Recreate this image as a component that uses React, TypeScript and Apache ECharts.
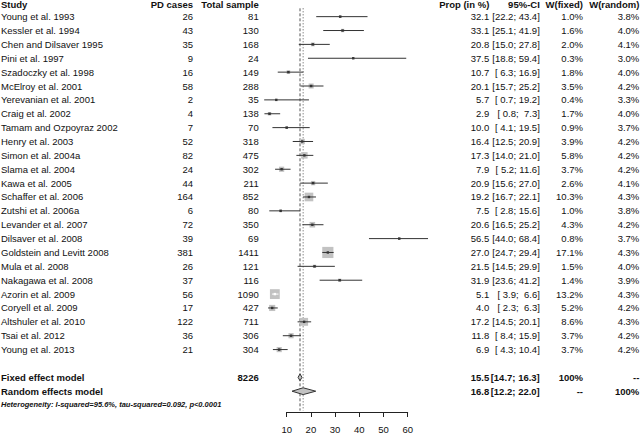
import React, { useEffect, useRef } from "react";
import * as echarts from "echarts";

// ---- data ----
const studies = [
  "Young et al. 1993", "Kessler et al. 1994", "Chen and Dilsaver 1995", "Pini et al. 1997",
  "Szadoczky et al. 1998", "McElroy et al. 2001", "Yerevanian et al. 2001", "Craig et al. 2002",
  "Tamam and Ozpoyraz 2002", "Henry et al. 2003", "Simon et al. 2004a", "Slama et al. 2004",
  "Kawa et al. 2005", "Schaffer et al. 2006", "Zutshi et al. 2006a", "Levander et al. 2007",
  "Dilsaver et al. 2008", "Goldstein and Levitt 2008", "Mula et al. 2008", "Nakagawa et al. 2008",
  "Azorin et al. 2009", "Coryell et al. 2009", "Altshuler et al. 2010", "Tsai et al. 2012",
  "Young et al. 2013",
];
const pdCases = [26, 43, 35, 9, 16, 58, 2, 4, 7, 52, 82, 24, 44, 164, 6, 72, 39, 381, 26, 37, 56, 17, 122, 36, 21];
const totalSample = [81, 130, 168, 24, 149, 288, 35, 138, 70, 318, 475, 302, 211, 852, 80, 350, 69, 1411, 121, 116, 1090, 427, 711, 306, 304];
const prop = [32.1, 33.1, 20.8, 37.5, 10.7, 20.1, 5.7, 2.9, 10.0, 16.4, 17.3, 7.9, 20.9, 19.2, 7.5, 20.6, 56.5, 27.0, 21.5, 31.9, 5.1, 4.0, 17.2, 11.8, 6.9];
const ciLow = [22.2, 25.1, 15.0, 18.8, 6.3, 15.7, 0.7, 0.8, 4.1, 12.5, 14.0, 5.2, 15.6, 16.7, 2.8, 16.5, 44.0, 24.7, 14.5, 23.6, 3.9, 2.3, 14.5, 8.4, 4.3];
const ciHigh = [43.4, 41.9, 27.8, 59.4, 16.9, 25.2, 19.2, 7.3, 19.5, 20.9, 21.0, 11.6, 27.0, 22.1, 15.6, 25.2, 68.4, 29.4, 29.9, 41.2, 6.6, 6.3, 20.1, 15.9, 10.4];
const wFixed = [1.0, 1.6, 2.0, 0.3, 1.8, 3.5, 0.4, 1.7, 0.9, 3.9, 5.8, 3.7, 2.6, 10.3, 1.0, 4.3, 0.8, 17.1, 1.5, 1.4, 13.2, 5.2, 8.6, 3.7, 3.7];
const wRandom = [3.8, 4.0, 4.1, 3.0, 4.0, 4.2, 3.3, 4.0, 3.7, 4.2, 4.2, 4.2, 4.1, 4.3, 3.8, 4.2, 3.7, 4.3, 4.0, 3.9, 4.3, 4.2, 4.3, 4.2, 4.2];

const headers = ["Study", "PD cases", "Total sample", "Prop (in %)", "95%-CI", "W(fixed)", "W(random)"];
const summaryNames = ["Fixed effect model", "Random effects model"];
const summaryTotal = ["8226", ""];
const summaryEst = [15.5, 16.8];
const summaryLow = [14.7, 12.2];
const summaryHigh = [16.3, 22.0];
const summaryWFixed = ["100%", "--"];
const summaryWRandom = ["--", "100%"];
const heterogeneity = "Heterogeneity: I-squared=95.6%, tau-squared=0.092, p<0.0001";
const xTicks = [10, 20, 30, 40, 50, 60];

// ---- layout (not data) ----
const NB = "\u00a0";
const pad = (v: number) => {
  const s = v.toFixed(1);
  return s.length < 4 ? NB + s : s;
};
const ciText = (l: number, h: number) => `[${pad(l)};${NB}${pad(h)}]`;

const colX = [1, 193, 258.7, 489.3, 539.8, 583, 639.3];
const colAlign = ["left", "right", "right", "right", "right", "right", "right"];

type Row = { y: number; cells: string[]; font: string };
const FONT = '"Liberation Sans", Arial, sans-serif';

const tableRows: Row[] = [];
tableRows.push({ y: -0.9, cells: headers, font: "bold" });
studies.forEach((s, i) => {
  tableRows.push({
    y: i,
    cells: [
      s,
      String(pdCases[i]),
      String(totalSample[i]),
      prop[i].toFixed(1),
      ciText(ciLow[i], ciHigh[i]),
      wFixed[i].toFixed(1) + "%",
      wRandom[i].toFixed(1) + "%",
    ],
    font: "normal",
  });
});
summaryNames.forEach((n, k) => {
  tableRows.push({
    y: studies.length + 1 + k,
    cells: [n, "", summaryTotal[k], summaryEst[k].toFixed(1), ciText(summaryLow[k], summaryHigh[k]), summaryWFixed[k], summaryWRandom[k]],
    font: "bold",
  });
});
tableRows.push({ y: studies.length + 2.97, cells: [heterogeneity], font: "hetero" });

export default function App() {
  const ref = useRef<HTMLDivElement>(null);
  useEffect(() => {
    document.body.style.margin = "0";
    if (!ref.current) return;
    const chart = echarts.init(ref.current, null, { renderer: "svg" });
    const boxScale = 2.7;
    const option: any = {
      animation: false,
      grid: { left: 286.7, right: 232.3, top: 0, bottom: 20.5, containLabel: false },
      xAxis: {
        type: "value",
        min: 10,
        max: 60,
        interval: 10,
        position: "bottom",
        axisLine: { show: true, onZero: false, lineStyle: { color: "#222", width: 1 } },
        axisTick: { show: true, length: 5, lineStyle: { color: "#222", width: 1 } },
        axisLabel: {
          margin: 12,
          color: "#111",
          fontSize: 9.5,
          fontFamily: FONT,
          formatter: (v: number) => (xTicks.includes(v) ? String(v) : ""),
        },
        splitLine: { show: false },
        z: 10,
      },
      yAxis: { type: "value", inverse: true, min: -1.2, max: 28.5, show: false },
      series: [
        {
          type: "custom",
          name: "reference",
          clip: false,
          z: 1,
          data: summaryEst.map((v, k) => [v, k]),
          renderItem: (params: any, api: any) => {
            const k = params.dataIndex;
            const v = summaryEst[k];
            const top = api.coord([v, -0.6]);
            const bot = api.coord([v, 28.4]);
            return {
              type: "line",
              shape: { x1: top[0], y1: top[1], x2: bot[0], y2: bot[1] },
              style: { stroke: "#555", lineWidth: 1, lineDash: k === 0 ? [3, 2] : [1, 2], fill: null },
            };
          },
        },
        {
          type: "custom",
          name: "studies",
          clip: false,
          z: 2,
          data: prop.map((p, i) => [p, i, ciLow[i], ciHigh[i], wFixed[i]]),
          renderItem: (params: any, api: any) => {
            const i = params.dataIndex;
            const c = api.coord([prop[i], i]);
            const xl = api.coord([ciLow[i], i])[0];
            const xh = api.coord([ciHigh[i], i])[0];
            const s = boxScale * Math.sqrt(wFixed[i]);
            const inside = xh - xl < s;
            const col = inside ? "#fff" : "#333";
            return {
              type: "group",
              children: [
                { type: "rect", shape: { x: c[0] - s / 2, y: c[1] - s / 2, width: s, height: s }, style: { fill: "#c2c2c2" } },
                { type: "line", shape: { x1: xl, y1: c[1], x2: xh, y2: c[1] }, style: { stroke: col, lineWidth: 1 } },
                { type: "rect", shape: { x: c[0] - 1.2, y: c[1] - 1.2, width: 2.4, height: 2.4 }, style: { fill: col } },
              ],
            };
          },
        },
        {
          type: "custom",
          name: "summary",
          clip: false,
          z: 3,
          data: summaryEst.map((v, k) => [v, studies.length + 1 + k]),
          renderItem: (params: any, api: any) => {
            const k = params.dataIndex;
            const row = studies.length + 1 + k;
            const c = api.coord([summaryEst[k], row]);
            const xl = api.coord([summaryLow[k], row])[0];
            const xh = api.coord([summaryHigh[k], row])[0];
            const h = 3.4;
            return {
              type: "polygon",
              shape: { points: [[xl, c[1]], [c[0], c[1] - h], [xh, c[1]], [c[0], c[1] + h]] },
              style: { fill: "#c2c2c2", stroke: "#333", lineWidth: 1 },
            };
          },
        },
        {
          type: "custom",
          name: "table",
          clip: false,
          z: 4,
          data: tableRows.map((r) => [10, r.y]),
          renderItem: (params: any, api: any) => {
            const r = tableRows[params.dataIndex];
            const y = api.coord([10, r.y])[1];
            const children = r.cells
              .map((t, j) => ({
                type: "text",
                x: colX[j],
                y,
                style: {
                  text: t,
                  fill: "#111",
                  align: colAlign[j],
                  verticalAlign: "middle",
                  fontFamily: FONT,
                  fontSize: r.font === "hetero" ? 7.5 : 9.5,
                  fontWeight: r.font === "normal" ? "normal" : "bold",
                  fontStyle: r.font === "hetero" ? "italic" : "normal",
                },
              }))
              .filter((e) => e.style.text !== "");
            return { type: "group", children };
          },
        },
      ],
    };
    chart.setOption(option);
    return () => chart.dispose();
  }, []);
  return <div ref={ref} style={{ width: 640, height: 434 }} />;
}
